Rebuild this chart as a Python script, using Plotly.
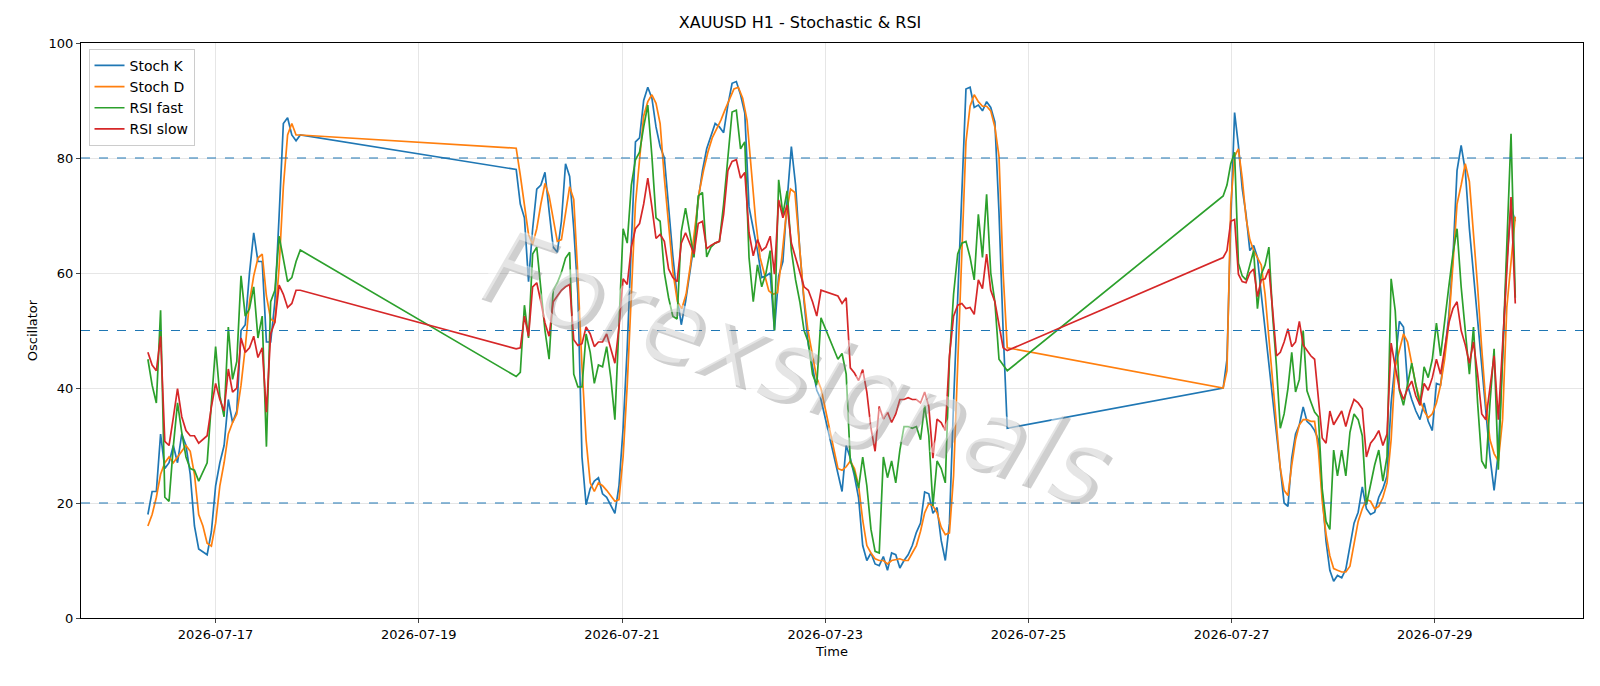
import numpy as np
import pandas as pd
import plotly.graph_objects as go

BASE = pd.Timestamp("2026-07-16 00:00")

# segment hour spans (hours after BASE): (start, end)
seg_hours = [(8, 44), (95, 129), (130, 167), (171, 211), (262, 289), (290, 326)]

K_segs = [
    [18,22,22,32,26,27,30,27,32,30,25,16,12,11.5,11,15,23,27,30,38,34,36,50,51,60,67,62,62,48,48,55,70,86,87,84,83,84],
    [78,72,69.6,58.5,67.7,74.6,75.3,77.5,70.8,64.5,63.6,69,79,76.8,67.7,56.3,28,19.7,22.5,23.8,24.4,21.6,21,19.7,18.2,23,33,47,65.2,82.8,83.5,90,92.3,90.4,85.4,82],
    [80,71,63,56,51,55,60,65,72.7,77.8,81.6,83.8,86,85.4,84.4,89.2,93,93.3,91,87.8,71.5,67.7,63.9,59.2,59.5,60,50,59.5,62,72.7,82,75.3,63.9,55,47.5,43.7,39.6,38],
    [25.2,22,30,27.8,24.7,20.9,12.6,10,11.3,9.4,9.1,10.7,8.3,11.3,11,8.7,10,11,12.6,14.9,16.5,21.9,21.6,18.2,19.2,13.5,10,16.5,37.4,56.3,75.3,92,92.3,88.8,89.2,88.2,89.8,88.8,86.3,70.5,50,33],
    [40,45,69,87.9,82.2,74.7,70.2,63.9,64.8,62.7,56.3,50,43.7,38,32.3,26,20,19.4,27.8,32,33.6,36.7,34.2,33.6,32.6,31,21.6,13.3,8.3,6.4,7.4],
    [7,8.5,12.9,16.5,18.4,22.8,19,18,18.4,21,22.5,24.7,37.4,45,51.6,50.6,40.5,38,36,34.5,37.4,34.2,32.6,40.8,40.5,46.2,52.5,62.6,77.8,82.2,77.8,67.7,59.5,51.3,44.3,35.5,28,22.2],
]
D_segs = [
    [16,18,21,25,27,28,27,28,29,30,29,25,18,16,13,12.5,16.5,23,27,32,34,35.5,40.5,47,55,59.5,62.6,63.3,56,52,51.5,61,75,84,86,84,84],
    [81.7,77,71.5,66.7,65,67.7,72,75.6,73.4,69.6,65.5,65.8,70.2,75,72.8,59.5,43.7,31,23.5,22,23.5,23,22.2,21.2,20.3,20.6,28,40.5,56.3,72,79.7,87.3,89.8,91,89.5,86],
    [76.5,67.7,60,55,53.8,56.3,61.4,67.7,74,77.8,81,83.5,85,86.6,88.5,90.4,92,92.3,90.4,86.6,77.8,69,62.7,60,56.9,56.3,56.6,62.7,70.2,74.6,74,65.2,56.3,50,45.6,41.8,39.9],
    [26,25.7,26.3,27.3,26,23,17,12.6,11.3,10.3,10,10,9.4,10,10.1,10.3,10,10,11.3,12.6,15.1,18.3,19.9,19.5,18.3,15.8,14.5,14.8,24.7,43.7,65.8,82.8,89,91,89.8,89,89,88.2,85.4,80.3,60,47],
    [40,43,72,80.3,81.6,76.5,69.6,65.8,63.9,62.7,61.4,56.3,48.7,40.5,33.6,26,22.2,21.3,26.6,31,33.6,34.5,34.5,34.2,34.2,29.2,20.3,14.6,10.8,8.6,8.3],
    [8,8,9,12.9,16.8,19,20.6,20.3,19,19.4,21,23.5,31,43.7,46.8,49.4,48,44.3,40.5,38,36,34.8,35.5,37.4,40.5,45,51.3,61.4,72,75.3,79,75.9,67,57.6,46.8,37.4,31,28.6],
]
RSI_fast_segs = [
    [45,40.5,37.4,53.5,21,20.3,29.8,37.4,32.3,28,26,25.7,23.8,25.4,27,37.4,47.2,38.6,35,50.6,41.5,44.6,59.5,52.5,53.8,57.6,48.7,52.5,29.8,55,57,66.4,62.7,58.5,59.2,62,64],
    [42,42.7,54.4,48.7,63.3,64.5,57.6,50,45,57,58.3,60.1,62.6,63.6,42.4,40.2,40.2,49.4,46.2,40.8,44,43.7,47.2,41.8,34.5,50,67.7,65.2,75.3,79.7,81,85.4,89.2,80.3,69.6,69],
    [60,55.7,52.5,52,67.2,71.3,67.2,62.7,73.4,74,62.8,64.5,65.2,65.5,72,80,88,88.3,81.6,82.8,62.7,55,61.4,57.6,60,63.9,50,76.2,70.2,74.3,63.9,58.8,55,50,48,42.4,40.5,52.2],
    [45,46,42.4,27.3,25.4,22.6,28,23,15.4,11.6,11.3,28,24.4,27.3,23.5,29.2,33.3,33.3,33,33.3,31,37,31.7,19.5,27.3,26,23.5,45,56.3,63.3,65.2,65.5,62.7,58.8,70.2,62.7,73.7,60,55,45,44,43],
    [73.4,75.3,79,81,61.7,59.5,58.8,61.4,63.9,53.8,59.8,61.4,64.5,52.5,43.7,33,35.5,39.9,46.2,39.3,41.5,50,39.5,37.6,35.8,35,22.4,16.8,15.4,29.2,24.7],
    [29.2,24.7,32.3,35.5,34.5,31.7,19.7,23.5,26.6,29.2,23.8,28,59,53.4,39.6,37,40.5,44.3,40.5,37,43.7,41.8,45,51.3,45.6,51.9,57.6,63.3,67.7,57.6,50,42.4,50.6,37.4,27.3,26,37.4,46.8],
]
RSI_slow_segs = [
    [46.2,44,43,49,30.7,30,34.8,39.9,35,32.6,31.7,31.7,30.4,31,31.7,36.7,40.8,38,36,43.3,39.3,40,48.7,46.2,47,49,45.3,47,35.8,49.4,51.5,57.9,56.3,54,54.7,57,57],
    [46.8,47,52.5,49,57.6,58.3,55,51.3,49,55,56,57,57.6,58,48.4,47.4,47.7,50.6,49.4,47.2,48,48,49.4,46.8,44.3,50.6,59,58,64.5,67.7,68.6,72,76.5,71.5,66,66.7],
    [65.5,60.7,59.2,58.5,65.2,67,65.2,63.3,68.6,69,64.2,64.8,65.2,65.5,70.2,77.8,79.4,79.7,76.5,77.5,67,63,65.8,63.9,64.5,66.4,59.8,72.7,69.6,71.8,65.2,62.7,60,57.6,57,55,52.5,57],
    [56,54.7,55.7,43.5,42.6,41.3,43.2,39.3,33,29,36.8,34.6,35.8,34,35.5,38,38,38.3,38,38,37.4,39.3,36.8,27.8,34.6,34,32.6,45.6,52.5,54.4,54.7,53.8,54,52.8,58.8,57.3,63.3,57,55,50.6,47,46.5],
    [62.7,63.9,69,69.3,59.8,58.5,58.3,60,60.7,55.9,58.8,59,60.7,53.5,45.6,46.2,48,50.3,47.2,48,51.6,47.5,46.5,45.6,45,37.4,31.3,30.4,36,33.6,34.7],
    [36,33.3,36,38,37.4,36.4,28,30.4,31.3,32.6,30,32,47.8,43.7,39.9,38,39.9,41.2,38.6,37,40.8,39.6,41.8,45,42.4,46.8,51.3,53.8,55,50,47.5,44.3,48,42.4,35.5,34.5,39.9,45.6],
]
# final hours (explicit)
K_tail_h, K_tail = [327, 329, 330, 331], [28.8, 62, 71.5, 69]
D_tail_h, D_tail = [327, 328, 329, 331], [27.3, 34.5, 54, 69.8]
F_tail_h, F_tail = [327, 330, 331], [25.8, 84.2, 55.7]
S_tail_h, S_tail = [327, 330, 331], [34.5, 73.2, 54.7]

levels = [20, 50, 80]
y_ticks = [0, 20, 40, 60, 80, 100]
x_tick_dates = ["2026-07-17", "2026-07-19", "2026-07-21", "2026-07-23", "2026-07-25", "2026-07-27", "2026-07-29"]


def build(segs, tail_h, tail_v):
    hrs, vals = [], []
    for (a, b), s in zip(seg_hours, segs):
        hrs.extend(np.linspace(a, b, len(s)))
        vals.extend(s)
    hrs.extend(tail_h)
    vals.extend(tail_v)
    t = BASE + pd.to_timedelta(np.array(hrs, dtype=float), unit="h")
    return t, vals


series = [
    ("Stoch K", K_segs, K_tail_h, K_tail, "#1f77b4"),
    ("Stoch D", D_segs, D_tail_h, D_tail, "#ff7f0e"),
    ("RSI fast", RSI_fast_segs, F_tail_h, F_tail, "#2ca02c"),
    ("RSI slow", RSI_slow_segs, S_tail_h, S_tail, "#d62728"),
]

fig = go.Figure()
for name, segs, th, tv, col in series:
    t, v = build(segs, th, tv)
    fig.add_trace(go.Scatter(x=t, y=v, mode="lines", name=name,
                             line=dict(color=col, width=1.7)))

for lv in levels:
    fig.add_hline(y=lv, line=dict(color="#1f77b4", width=1.2, dash="dash"))

wm = "Forexsignals"
fig.add_annotation(text=wm, xref="paper", yref="paper", x=0.479, y=0.43,
                   showarrow=False, textangle=19,
                   font=dict(size=104, color="rgba(130,130,130,0.38)", family="DejaVu Sans", style="italic"))
fig.add_annotation(text=wm, xref="paper", yref="paper", x=0.475, y=0.437,
                   showarrow=False, textangle=19,
                   font=dict(size=104, color="rgba(255,255,255,0.45)", family="DejaVu Sans", style="italic"))

x0 = BASE + pd.Timedelta(hours=-7.8)
x1 = BASE + pd.Timedelta(hours=347)
fig.update_layout(
    width=1600, height=686,
    paper_bgcolor="white", plot_bgcolor="rgba(0,0,0,0)",
    margin=dict(l=81, r=17, t=43, b=68),
    title=dict(text="XAUUSD H1 - Stochastic & RSI", x=0.5, xanchor="center", y=0.975,
               font=dict(size=16, color="black", family="DejaVu Sans")),
    font=dict(family="DejaVu Sans", size=13, color="black"),
    legend=dict(x=0.005, y=0.99, xanchor="left", yanchor="top", bgcolor="white",
                bordercolor="#cccccc", borderwidth=1, font=dict(size=14)),
    showlegend=True,
)
fig.update_xaxes(range=[x0, x1], tickvals=pd.to_datetime(x_tick_dates), ticktext=x_tick_dates,
                 showgrid=True, gridcolor="#e6e6e6", showline=True, linecolor="black", mirror=True,
                 ticks="outside", ticklen=4, title=dict(text="Time", font=dict(size=13), standoff=6))
fig.update_yaxes(range=[0, 100], tickvals=y_ticks, showgrid=True, gridcolor="#e6e6e6",
                 showline=True, linecolor="black", mirror=True, ticks="outside", ticklen=4,
                 zeroline=False, title=dict(text="Oscillator", font=dict(size=13), standoff=8))

fig.write_html("out.html", config={"displayModeBar": False})
with open("out.html", encoding="utf-8") as f:
    html = f.read()
html = html.replace("<body>", '<body style="margin:0;overflow:hidden">', 1)
with open("out.html", "w", encoding="utf-8") as f:
    f.write(html)
